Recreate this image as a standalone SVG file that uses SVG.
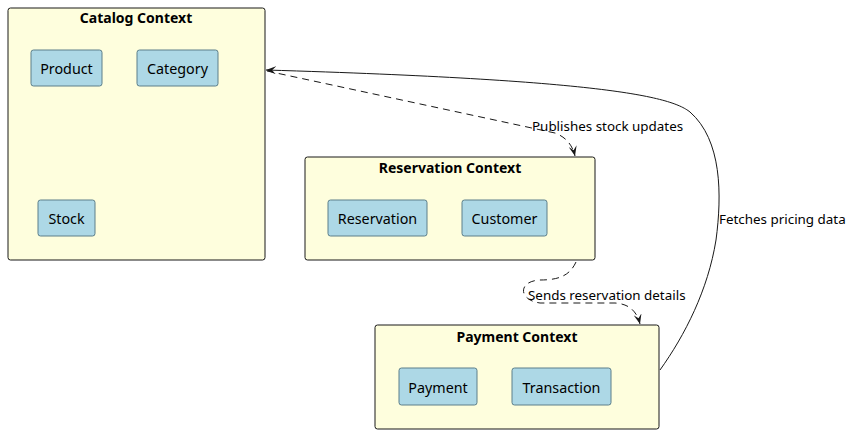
<svg xmlns="http://www.w3.org/2000/svg" width="852" height="434" viewBox="0 0 852 434">
<style>
.ctx{fill:#FEFEDD;stroke:#181818;stroke-width:1}
.node{fill:#ADD8E6;stroke:#5C7F8A;stroke-width:1}
.title{font-family:"Noto Sans",sans-serif;font-size:14px;font-weight:bold;fill:#000;text-anchor:middle}
.lbl{font-family:"Noto Sans",sans-serif;font-size:14.3px;fill:#000;text-anchor:middle}
.elbl{font-family:"Noto Sans",sans-serif;font-size:13.4px;fill:#000}
.edge{fill:none;stroke:#181818;stroke-width:1}
.dash{stroke-dasharray:7,5}
</style>
<defs>
<marker id="arr" viewBox="0 0 10 8" refX="10" refY="4" markerWidth="10" markerHeight="8" orient="auto" markerUnits="userSpaceOnUse">
<path d="M0,0 L10,4 L0,8 L4,4 Z" fill="#181818"/>
</marker>
</defs>
<g id="catalog">
<rect class="ctx" x="8" y="8" width="257" height="252" rx="2.5"/>
<text class="title" x="136" y="23">Catalog Context</text>
</g>
<g id="product"><rect class="node" x="31" y="50" width="71" height="36" rx="2.5"/><text class="lbl" x="66.5" y="74">Product</text></g>
<g id="category"><rect class="node" x="137" y="50" width="81" height="36" rx="2.5"/><text class="lbl" x="177.5" y="74">Category</text></g>
<g id="stock"><rect class="node" x="38" y="200" width="57" height="36" rx="2.5"/><text class="lbl" x="66.5" y="224">Stock</text></g>
<g id="reservationContext">
<rect class="ctx" x="305" y="157" width="290" height="103" rx="2.5"/>
<text class="title" x="450" y="173">Reservation Context</text>
</g>
<g id="reservation"><rect class="node" x="328" y="200" width="99" height="36" rx="2.5"/><text class="lbl" x="377.5" y="224">Reservation</text></g>
<g id="customer"><rect class="node" x="462" y="200" width="85" height="36" rx="2.5"/><text class="lbl" x="504.5" y="224">Customer</text></g>
<g id="paymentContext">
<rect class="ctx" x="375" y="325" width="284" height="104" rx="2.5"/>
<text class="title" x="517" y="342">Payment Context</text>
</g>
<g id="payment"><rect class="node" x="399" y="368" width="78" height="37" rx="2.5"/><text class="lbl" x="438" y="393">Payment</text></g>
<g id="transaction"><rect class="node" x="512" y="368" width="99" height="37" rx="2.5"/><text class="lbl" x="561.5" y="393">Transaction</text></g>
<g id="connectors">
<path class="edge dash" d="M267,71 L555,133 Q571,139 575,156" marker-end="url(#arr)"/>
<text class="elbl" x="532" y="131">Publishes stock updates</text>
<path class="edge dash" d="M576,262 C570,275 560,280 540,280 C518,281 518,300 540,303 L615,303 C630,304 637,312 640,324" marker-end="url(#arr)"/>
<text class="elbl" x="528" y="300">Sends reservation details</text>
<path class="edge" d="M660,370 C685,335 708,290 716,240 C722,195 722,140 690,112 C670,96 600,80 266,70" marker-end="url(#arr)"/>
<text class="elbl" x="719" y="224">Fetches pricing data</text>
</g>
</svg>
